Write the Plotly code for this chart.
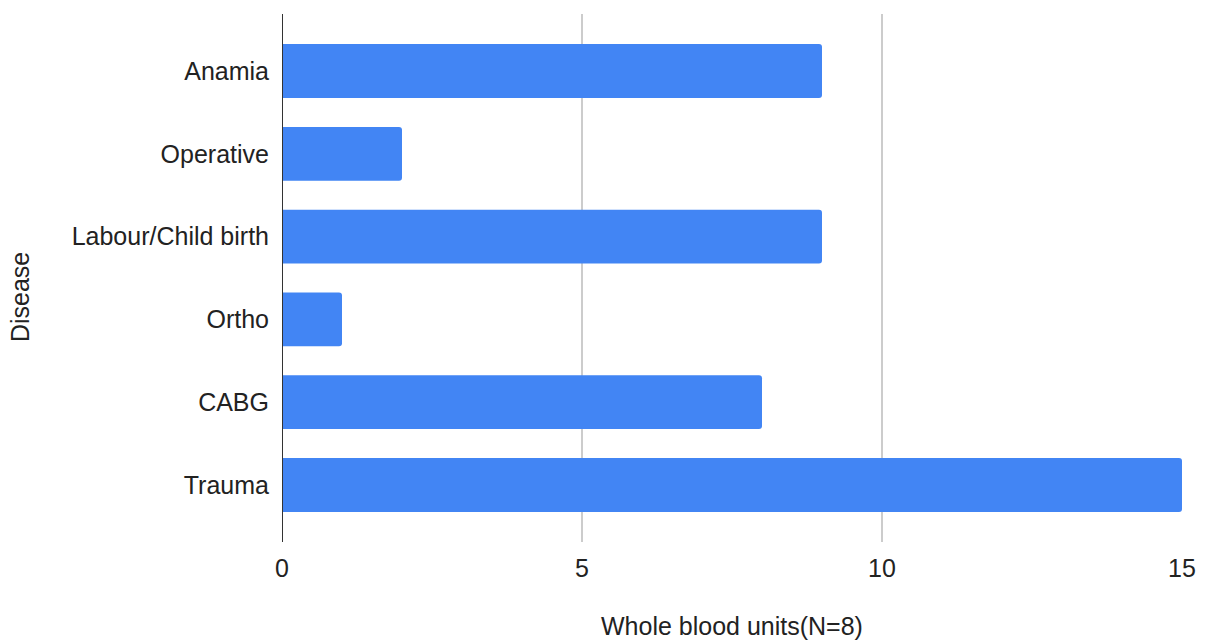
import plotly.graph_objects as go

# Whole blood units issued per disease category
diseases = ["Anamia", "Operative", "Labour/Child birth", "Ortho", "CABG", "Trauma"]
units = [9, 2, 9, 1, 8, 15]
x_ticks = [0, 5, 10, 15]

FONT = "Liberation Sans, Arial, sans-serif"
BAR_COLOR = "#4285F4"
TEXT_COLOR = "#222222"
FS = 25

fig = go.Figure(
    go.Bar(
        y=diseases,
        x=units,
        orientation="h",
        marker=dict(color=BAR_COLOR, line=dict(width=0)),
        hoverinfo="x+y",
    )
)

fig.update_layout(
    width=1205,
    height=641,
    margin=dict(l=282, r=23, t=14, b=99),
    paper_bgcolor="white",
    plot_bgcolor="white",
    bargap=0.348,
    barcornerradius=3,
    showlegend=False,
    font=dict(family=FONT, size=FS, color=TEXT_COLOR),
)

fig.update_xaxes(
    range=[0, 15],
    tickvals=x_ticks,
    ticktext=[str(v) for v in x_ticks],
    showgrid=True,
    gridcolor="#cccccc",
    gridwidth=1.5,
    zeroline=False,
    showline=False,
    ticks="",
    automargin=False,
    ticklabelstandoff=9,
    tickfont=dict(family=FONT, size=FS, color=TEXT_COLOR),
)

fig.update_yaxes(
    categoryorder="array",
    categoryarray=diseases,
    range=[5.69, -0.69],
    showgrid=False,
    zeroline=False,
    showline=False,
    ticks="",
    automargin=False,
    ticklabelstandoff=12,
    tickfont=dict(family=FONT, size=FS, color=TEXT_COLOR),
)

# dark baseline at x = 0
fig.add_shape(
    type="line", xref="x", yref="paper",
    x0=0, x1=0, y0=0, y1=1,
    line=dict(color="#333333", width=2),
    layer="above",
)

# axis titles
fig.add_annotation(
    text="Whole blood units(N=8)", xref="paper", yref="paper",
    x=0.5, y=-0.159, xanchor="center", yanchor="middle",
    showarrow=False, font=dict(family=FONT, size=FS, color=TEXT_COLOR),
)
fig.add_annotation(
    text="Disease", xref="paper", yref="paper",
    x=-0.291, y=0.464, xanchor="center", yanchor="middle",
    textangle=-90, showarrow=False,
    font=dict(family=FONT, size=FS, color=TEXT_COLOR),
)

fig.write_html("out.html")
